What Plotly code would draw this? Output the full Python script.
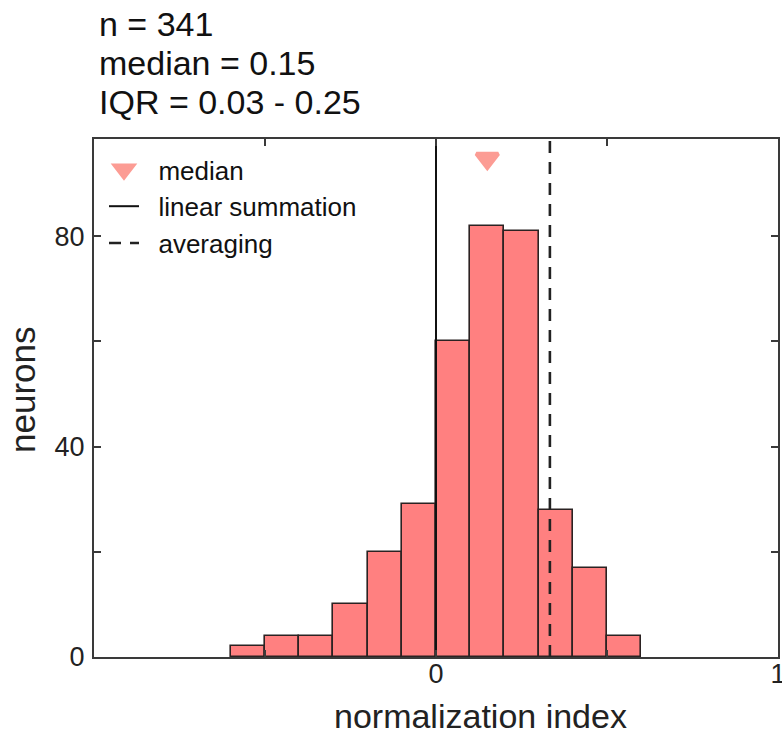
import plotly.graph_objects as go

# Histogram of normalization indices (bin width 0.1)
bin_left_edges = [-0.6, -0.5, -0.4, -0.3, -0.2, -0.1, 0.0, 0.1, 0.2, 0.3, 0.4, 0.5]
counts = [2, 4, 4, 10, 20, 29, 60, 82, 81, 28, 17, 4]
bin_width = 0.1

median_value = 0.15
median_marker_y = 94.8
linear_summation_x = 0.0
averaging_x = 0.333

summary_lines = ["n = 341", "median = 0.15", "IQR = 0.03 - 0.25"]

x_tickvals = [-1, -0.5, 0, 0.5, 1]
x_ticktext = ["", "", "0", "", "1"]
y_tickvals = [0, 40, 80]
y_minor_tickvals = [20, 60]
y_range = [0, 98.5]

FONT = "Liberation Sans, Arial, sans-serif"
W, H = 782, 736
M = dict(l=94, r=4, t=139, b=79)
PLOT_W = W - M["l"] - M["r"]
PLOT_H = H - M["t"] - M["b"]
NBSP = "\u00a0"


def xpaper(px):
    return (px - M["l"]) / PLOT_W


def ypaper(py):
    return (H - M["b"] - py) / PLOT_H


bar_centers = [e + bin_width / 2 for e in bin_left_edges]

fig = go.Figure()
fig.add_trace(go.Bar(
    x=bar_centers, y=counts, width=bin_width,
    marker=dict(color="#FF8080", line=dict(color="#2b2222", width=1.6)),
    showlegend=False, hoverinfo="skip",
))
fig.add_trace(go.Scatter(
    x=[median_value], y=[median_marker_y], mode="markers", name=NBSP * 2 + "median",
    marker=dict(symbol="triangle-down", size=19, color="#FC9C94",
                line=dict(color="#FC9C94", width=4)),
))
fig.add_trace(go.Scatter(
    x=[linear_summation_x, linear_summation_x], y=y_range, mode="lines",
    name=NBSP * 2 + "linear summation", line=dict(color="#111111", width=2),
))
fig.add_trace(go.Scatter(
    x=[averaging_x, averaging_x], y=y_range, mode="lines",
    name=NBSP * 2 + "averaging", line=dict(color="#222222", width=2.6, dash="12px,9px"),
))

# Summary statistics above the axes
for i, txt in enumerate(summary_lines):
    fig.add_annotation(
        text=txt, xref="paper", yref="paper", x=xpaper(97),
        y=ypaper(24 + 39 * i), xanchor="left", yanchor="middle", showarrow=False,
        font=dict(family=FONT, size=34, color="#111111"),
    )

# Axis titles
fig.add_annotation(
    text="normalization index", xref="paper", yref="paper", x=xpaper(480), y=ypaper(716),
    xanchor="center", yanchor="middle", showarrow=False,
    font=dict(family=FONT, size=34, color="#222222"),
)
fig.add_annotation(
    text="neurons", xref="paper", yref="paper", x=xpaper(22), y=ypaper(390),
    xanchor="center", yanchor="middle", showarrow=False, textangle=-90,
    font=dict(family=FONT, size=35, color="#222222"),
)

axis_common = dict(
    showline=True, linecolor="#3a3a3a", linewidth=2, mirror="ticks",
    ticks="inside", ticklen=7, tickwidth=1.5, tickcolor="#3a3a3a",
    showgrid=False, zeroline=False, automargin=False,
    tickfont=dict(family=FONT, size=27, color="#222222"),
)

fig.update_xaxes(
    range=[-1, 1], tickmode="array", tickvals=x_tickvals, ticktext=x_ticktext,
    ticklabelstandoff=-8, ticklabeloverflow="allow",
    **axis_common,
)
fig.update_yaxes(
    range=y_range, tickmode="array", tickvals=y_tickvals,
    minor=dict(tickvals=y_minor_tickvals, ticks="inside", ticklen=7,
               tickcolor="#3a3a3a", tickwidth=1.5),
    ticklabelstandoff=2,
    **axis_common,
)

fig.update_layout(
    width=W, height=H, margin=M,
    paper_bgcolor="white", plot_bgcolor="white",
    bargap=0,
    legend=dict(x=xpaper(104), y=ypaper(146), xanchor="left", yanchor="top",
                bgcolor="rgba(0,0,0,0)", font=dict(family=FONT, size=26, color="#111111"),
                itemwidth=30, tracegroupgap=0),
)

fig.write_html("out.html")
